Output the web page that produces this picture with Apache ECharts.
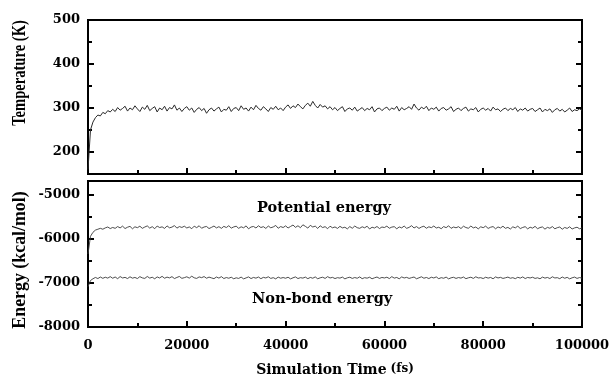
<!DOCTYPE html>
<html>
<head>
<meta charset="utf-8">
<script src="https://cdn.jsdelivr.net/npm/echarts@6/dist/echarts.min.js"></script>
<style>
  html, body { margin: 0; padding: 0; background: #fff; }
  #main { width: 612px; height: 381px; }
</style>
</head>
<body>
<div id="main"></div>
<script>
// simulation time (fs), sampled every 500 fs
var timeFs = [
  0, 500, 1000, 1500, 2000, 2500, 3000, 3500, 4000, 4500,
  5000, 5500, 6000, 6500, 7000, 7500, 8000, 8500, 9000, 9500,
  10000, 10500, 11000, 11500, 12000, 12500, 13000, 13500, 14000, 14500,
  15000, 15500, 16000, 16500, 17000, 17500, 18000, 18500, 19000, 19500,
  20000, 20500, 21000, 21500, 22000, 22500, 23000, 23500, 24000, 24500,
  25000, 25500, 26000, 26500, 27000, 27500, 28000, 28500, 29000, 29500,
  30000, 30500, 31000, 31500, 32000, 32500, 33000, 33500, 34000, 34500,
  35000, 35500, 36000, 36500, 37000, 37500, 38000, 38500, 39000, 39500,
  40000, 40500, 41000, 41500, 42000, 42500, 43000, 43500, 44000, 44500,
  45000, 45500, 46000, 46500, 47000, 47500, 48000, 48500, 49000, 49500,
  50000, 50500, 51000, 51500, 52000, 52500, 53000, 53500, 54000, 54500,
  55000, 55500, 56000, 56500, 57000, 57500, 58000, 58500, 59000, 59500,
  60000, 60500, 61000, 61500, 62000, 62500, 63000, 63500, 64000, 64500,
  65000, 65500, 66000, 66500, 67000, 67500, 68000, 68500, 69000, 69500,
  70000, 70500, 71000, 71500, 72000, 72500, 73000, 73500, 74000, 74500,
  75000, 75500, 76000, 76500, 77000, 77500, 78000, 78500, 79000, 79500,
  80000, 80500, 81000, 81500, 82000, 82500, 83000, 83500, 84000, 84500,
  85000, 85500, 86000, 86500, 87000, 87500, 88000, 88500, 89000, 89500,
  90000, 90500, 91000, 91500, 92000, 92500, 93000, 93500, 94000, 94500,
  95000, 95500, 96000, 96500, 97000, 97500, 98000, 98500, 99000, 99500,
  100000
];

// temperature (K)
var temperature = [
  160, 250, 268, 278, 284, 282, 290, 287, 294, 291,
  297, 292, 301, 295, 299, 304, 293, 300, 296, 305,
  298, 292, 302, 297, 306, 294, 299, 303, 291, 300,
  296, 304, 293, 301, 298, 307, 295, 300, 292, 299,
  303, 295, 300, 290, 297, 301, 294, 299, 288, 296,
  300, 293, 298, 302, 291, 297, 295, 303, 292, 299,
  301, 294, 305, 297, 300, 293, 302, 296, 306, 299,
  295, 303, 298, 292, 301, 297, 304, 296, 300, 294,
  302, 307, 299, 305, 301, 309, 303, 298, 306, 311,
  304, 315, 306, 300, 308, 302, 305, 298, 303, 296,
  301, 294, 299, 303, 292, 298, 300, 295, 302, 293,
  297, 301, 294, 299, 296, 303, 291, 298, 300, 294,
  299, 302, 295, 300, 297, 304, 293, 301, 296, 299,
  303, 297, 309, 300, 295, 302, 298, 304, 294, 300,
  297, 302, 293, 299, 301, 295, 298, 303, 292, 297,
  300, 294, 299, 302, 293, 298, 296, 301, 291, 297,
  300, 295, 299, 293, 302, 296, 298, 292, 297, 300,
  294, 299, 296, 301, 292, 298, 295, 300, 293, 297,
  299, 292, 296, 300, 291, 297, 294, 298, 290, 296,
  299, 293, 297, 291, 295, 300, 292, 296, 294, 298,
  295
];

// potential energy (kcal/mol)
var potential = [
  -6350, -5950, -5860, -5810, -5790, -5770, -5790, -5760, -5740, -5775,
  -5750, -5770, -5730, -5760, -5720, -5775, -5745, -5725, -5780, -5735,
  -5755, -5722, -5770, -5740, -5715, -5765, -5732, -5778, -5718, -5752,
  -5736, -5772, -5715, -5758, -5742, -5708, -5765, -5730, -5750, -5722,
  -5762, -5738, -5778, -5720, -5755, -5712, -5768, -5740, -5728, -5775,
  -5748, -5718, -5760, -5732, -5770, -5725, -5752, -5710, -5765, -5738,
  -5722, -5770, -5735, -5758, -5715, -5780, -5740, -5728, -5762, -5712,
  -5752, -5732, -5772, -5718, -5758, -5738, -5705, -5768, -5730, -5752,
  -5715, -5762, -5728, -5695, -5748, -5712, -5755, -5690, -5725, -5765,
  -5702, -5740, -5720, -5772, -5712, -5752, -5732, -5778, -5722, -5758,
  -5738, -5772, -5725, -5760, -5745, -5782, -5730, -5768, -5718, -5755,
  -5770, -5735, -5758, -5722, -5785, -5745, -5762, -5728, -5775, -5740,
  -5752, -5720, -5768, -5742, -5732, -5780, -5738, -5760, -5718, -5770,
  -5748, -5710, -5762, -5730, -5772, -5740, -5722, -5768, -5735, -5755,
  -5718, -5762, -5745, -5778, -5730, -5755, -5712, -5770, -5740, -5758,
  -5732, -5775, -5722, -5752, -5768, -5718, -5760, -5740, -5782, -5735,
  -5755, -5720, -5772, -5745, -5730, -5780, -5738, -5762, -5722, -5770,
  -5748, -5785, -5735, -5760, -5720, -5775, -5750, -5732, -5782, -5745,
  -5765, -5725, -5778, -5752, -5738, -5788, -5748, -5768, -5730, -5780,
  -5755, -5740, -5790, -5750, -5772, -5735, -5785, -5760, -5745, -5780,
  -5762
];

// non-bond energy (kcal/mol)
var nonBond = [
  -7090, -6950, -6910, -6880, -6905, -6870, -6900, -6875, -6895, -6862,
  -6898, -6870, -6908, -6860, -6892, -6878, -6905, -6865, -6896, -6880,
  -6905, -6862, -6890, -6902, -6858, -6895, -6875, -6910, -6868, -6892,
  -6855, -6898, -6872, -6890, -6862, -6905, -6880, -6858, -6900, -6885,
  -6865, -6895, -6852, -6888, -6902, -6868, -6885, -6860, -6898, -6872,
  -6890, -6908, -6870, -6895, -6862, -6905, -6882, -6898, -6875, -6910,
  -6888, -6902, -6872, -6912, -6890, -6868, -6905, -6880, -6896, -6870,
  -6908, -6878, -6892, -6865, -6902, -6885, -6912, -6872, -6898, -6882,
  -6898, -6875, -6912, -6888, -6868, -6905, -6885, -6895, -6872, -6908,
  -6880, -6898, -6868, -6910, -6888, -6875, -6902, -6862, -6892, -6878,
  -6905, -6885, -6895, -6872, -6912, -6888, -6875, -6902, -6882, -6898,
  -6868, -6908, -6885, -6896, -6875, -6910, -6888, -6870, -6902, -6880,
  -6892, -6875, -6905, -6862, -6895, -6880, -6910, -6868, -6892, -6878,
  -6902, -6885, -6870, -6910, -6888, -6865, -6898, -6880, -6905, -6875,
  -6892, -6868, -6908, -6885, -6898, -6872, -6912, -6888, -6876, -6902,
  -6882, -6895, -6870, -6908, -6888, -6875, -6902, -6865, -6892, -6885,
  -6905, -6875, -6895, -6880, -6910, -6868, -6892, -6878, -6902, -6888,
  -6872, -6898, -6885, -6908, -6876, -6895, -6868, -6905, -6880, -6892,
  -6875, -6902, -6888, -6910, -6872, -6895, -6880, -6905, -6865, -6892,
  -6885, -6908, -6870, -6898, -6878, -6912, -6888, -6872, -6902, -6882,
  -6895
];

var tempMajorTicks = [200, 300, 400, 500];
var tempMinorTicks = [250, 350, 450];
var energyMajorTicks = [-8000, -7000, -6000, -5000];
var energyMinorTicks = [-7500, -6500, -5500];

var serif = 'DejaVu Serif';

function pairs(ys) {
  return timeFs.map(function (t, i) { return [t, ys[i]]; });
}

function plain(v) { return String(v); }

// one y axis: ticks at the given values, labels optional
function yAx(grid, pos, min, max, ticks, len, withLabel) {
  return {
    type: 'value',
    gridIndex: grid,
    position: pos,
    min: min,
    max: max,
    axisLine: { show: false },
    splitLine: { show: false },
    axisTick: { show: true, inside: true, length: len, customValues: ticks, lineStyle: { color: '#000', width: 2 } },
    axisLabel: withLabel ? {
      show: true, customValues: ticks, margin: 8, formatter: plain,
      fontFamily: serif, fontWeight: 'bold', fontSize: 13, color: '#000'
    } : { show: false }
  };
}

function xAx(grid, withLabel, name) {
  return {
    type: 'value',
    gridIndex: grid,
    min: 0,
    max: 100000,
    interval: 20000,
    name: name || '',
    nameLocation: 'middle',
    nameGap: 36,
    nameTextStyle: {
      rich: {
        a: { fontFamily: serif, fontWeight: 'bold', fontSize: 14, color: '#000' },
        b: { fontFamily: serif, fontWeight: 'bold', fontSize: 12, color: '#000', padding: [0, 0, 3, 4] }
      }
    },
    axisLine: { show: false },
    splitLine: { show: false },
    axisTick: { show: true, inside: true, length: 6, lineStyle: { color: '#000', width: 2 } },
    minorTick: { show: true, splitNumber: 2, length: 4, lineStyle: { color: '#000', width: 2 } },
    axisLabel: withLabel ? {
      show: true, margin: 12, formatter: plain,
      fontFamily: serif, fontWeight: 'bold', fontSize: 13, color: '#000'
    } : { show: false }
  };
}

var chart = echarts.init(document.getElementById('main'), null, { renderer: 'canvas' });

var option = {
  animation: false,
  backgroundColor: '#fff',
  grid: [
    { left: 88, right: 30, top: 20, height: 154, outerBoundsMode: 'none', containLabel: false,
      show: true, borderColor: '#000', borderWidth: 2, backgroundColor: 'transparent' },
    { left: 88, right: 30, top: 181, height: 146, outerBoundsMode: 'none', containLabel: false,
      show: true, borderColor: '#000', borderWidth: 2, backgroundColor: 'transparent' }
  ],
  xAxis: [
    xAx(0, false),
    xAx(1, true, '{a|Simulation Time}{b|(fs)}')
  ],
  yAxis: [
    yAx(0, 'left', 150, 500, tempMajorTicks, 6, true),
    yAx(0, 'left', 150, 500, tempMinorTicks, 4, false),
    yAx(0, 'right', 150, 500, tempMajorTicks, 6, false),
    yAx(0, 'right', 150, 500, tempMinorTicks, 4, false),
    yAx(1, 'left', -8000, -4700, energyMajorTicks, 6, true),
    yAx(1, 'left', -8000, -4700, energyMinorTicks, 4, false),
    yAx(1, 'right', -8000, -4700, energyMajorTicks, 6, false),
    yAx(1, 'right', -8000, -4700, energyMinorTicks, 4, false)
  ],
  graphic: [
    { type: 'text', x: 20, y: 73, rotation: Math.PI / 2, scaleX: 0.81,
      style: { text: 'Temperature (K)', fontFamily: 'Liberation Serif', fontWeight: 'bold', fontSize: 18,
        fill: '#000', align: 'center', verticalAlign: 'middle' } },
    { type: 'text', x: 20, y: 260, rotation: Math.PI / 2, scaleX: 0.94,
      style: { text: 'Energy (kcal/mol)', fontFamily: 'Liberation Serif', fontWeight: 'bold', fontSize: 19,
        fill: '#000', align: 'center', verticalAlign: 'middle' } },
    { type: 'text', left: 257, top: 201, style: { text: 'Potential energy', fontFamily: serif, fontWeight: 'bold', fontSize: 14.5, fill: '#000' } },
    { type: 'text', left: 252, top: 292, style: { text: 'Non-bond energy', fontFamily: serif, fontWeight: 'bold', fontSize: 14.5, fill: '#000' } }
  ],
  series: [
    {
      name: 'Temperature', type: 'line', xAxisIndex: 0, yAxisIndex: 0,
      showSymbol: false, data: pairs(temperature),
      lineStyle: { color: '#2a2a2a', width: 1 }
    },
    {
      name: 'Potential energy', type: 'line', xAxisIndex: 1, yAxisIndex: 4,
      showSymbol: false, data: pairs(potential),
      lineStyle: { color: '#3a3a3a', width: 0.9 }
    },
    {
      name: 'Non-bond energy', type: 'line', xAxisIndex: 1, yAxisIndex: 4,
      showSymbol: false, data: pairs(nonBond),
      lineStyle: { color: '#3a3a3a', width: 0.9 }
    }
  ]
};

chart.setOption(option);
</script>
</body>
</html>
